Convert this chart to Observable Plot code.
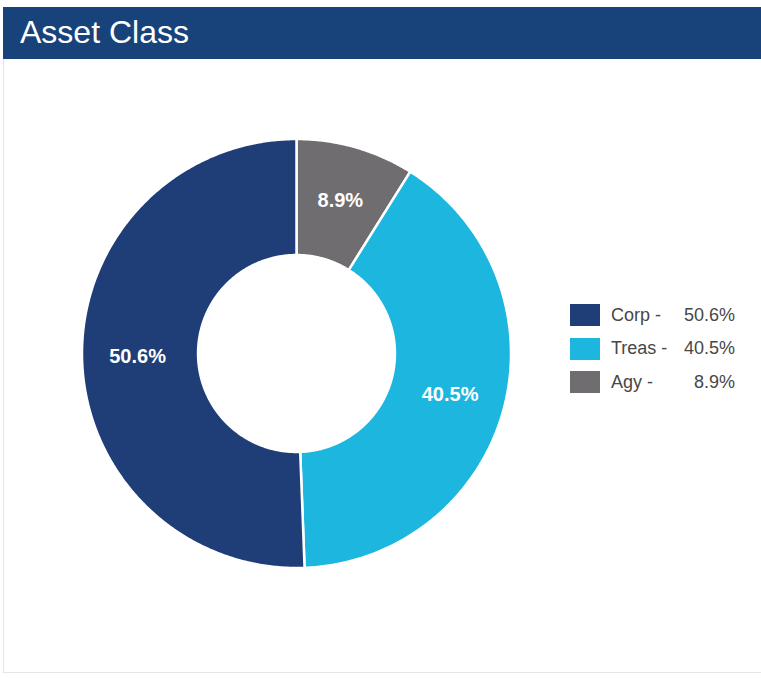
<!DOCTYPE html>
<html><head><meta charset="utf-8">
<script src="https://cdn.jsdelivr.net/npm/d3@7"></script>
<script src="https://cdn.jsdelivr.net/npm/@observablehq/plot@0.6"></script>
<style>
body{margin:0;background:#fff;font-family:"Liberation Sans",Arial,sans-serif;width:761px;height:678px;overflow:hidden;position:relative;}
#header{position:absolute;left:3px;top:7px;width:758px;height:52px;background:#17427a;color:#fff;font-size:32px;line-height:50px;padding-left:17px;box-sizing:border-box;}
#panel{position:absolute;left:3px;top:59px;width:758px;height:614px;border:1px solid #e6e6e6;border-top:none;border-right:none;box-sizing:border-box;}
#chart{position:absolute;left:0;top:59px;}
#legend{position:absolute;left:570px;top:304px;font-size:18px;color:#474747;}
.row{display:flex;align-items:center;height:22px;margin-bottom:11.5px;}
.sw{width:30px;height:22px;margin-right:11px;}
.lab{width:70px;}
.val{width:54px;text-align:right;}
</style></head>
<body>
<div id="header">Asset Class</div>
<div id="panel"></div>
<div id="chart"></div>
<div id="legend"></div>
<script>
const categories = ["Corp", "Treas", "Agy"];
const values = [50.6, 40.5, 8.9];
const colors = ["#1f3d77", "#1cb6df", "#6f6d6f"];
const valueLabels = ["50.6%", "40.5%", "8.9%"];

const cx = 296, cy = 294, R = 214.5, innerFrac = 0.459, labelFrac = 0.741;

const rows = categories.map((name, i) => ({name, value: values[i], label: valueLabels[i]}));
// Slices run clockwise from 12 o'clock: Agy, Treas, Corp
const pie = d3.pie().sort(null).value(d => d.value)(rows.slice().reverse());

const pts = [];
const labels = [];
for (const p of pie) {
  const a0 = p.startAngle, a1 = p.endAngle;
  const n = Math.max(4, Math.ceil((a1 - a0) / (Math.PI / 360)));
  for (let k = 0; k <= n; k++) {
    const a = a0 + (a1 - a0) * k / n;
    pts.push({name: p.data.name, x: Math.sin(a), y: Math.cos(a)});
  }
  for (let k = n; k >= 0; k--) {
    const a = a0 + (a1 - a0) * k / n;
    pts.push({name: p.data.name, x: innerFrac * Math.sin(a), y: innerFrac * Math.cos(a)});
  }
  const m = (a0 + a1) / 2;
  labels.push({name: p.data.name, text: p.data.label, x: labelFrac * Math.sin(m), y: labelFrac * Math.cos(m)});
}

const chart = Plot.plot({
  width: 761,
  height: 614,
  margin: 0,
  x: {domain: [-1, 1], range: [cx - R, cx + R], axis: null},
  y: {domain: [-1, 1], range: [cy + R, cy - R], axis: null},
  color: {domain: categories, range: colors},
  style: {fontFamily: "'Liberation Sans', Arial, sans-serif", background: "transparent"},
  marks: [
    Plot.line(pts, {x: "x", y: "y", z: "name", fill: "name", stroke: "white", strokeWidth: 2.5, curve: "linear-closed"}),
    Plot.text(labels, {x: "x", y: "y", text: "text", fill: "white", fontSize: 20, fontWeight: "bold"})
  ]
});
document.getElementById("chart").appendChild(chart);

const legend = document.getElementById("legend");
rows.forEach((r, i) => {
  const row = document.createElement("div");
  row.className = "row";
  row.innerHTML = `<div class="sw" style="background:${colors[i]}"></div><span class="lab">${r.name} -</span><span class="val">${r.label}</span>`;
  legend.appendChild(row);
});
</script>
</body></html>
